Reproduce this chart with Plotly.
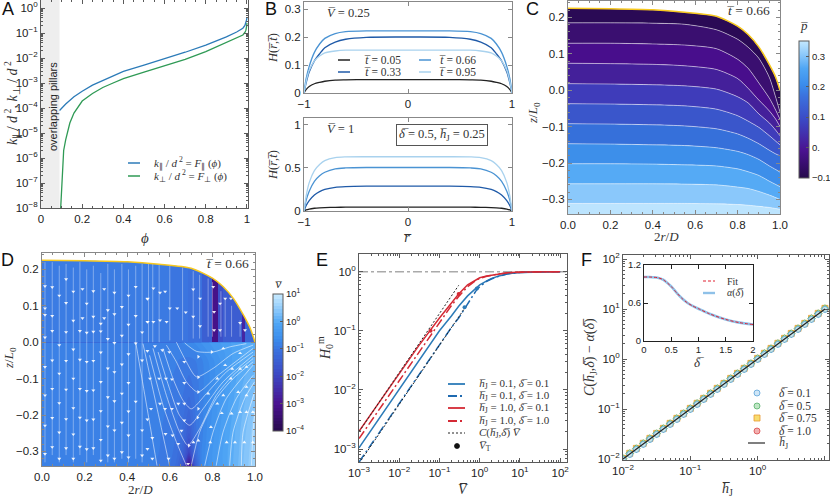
import plotly.graph_objects as go

W, H = 830, 497
SERIF = "Liberation Serif"
SANS = "Liberation Sans"
FRAME = "#5a5a5a"

# ---- panel A: permeabilities
phi_par = [0.09, 0.12, 0.16, 0.2, 0.25, 0.3, 0.35, 0.4, 0.5, 0.6, 0.7, 0.8, 0.9, 0.95, 0.98, 0.99, 0.995, 0.998, 1.0]
k_par = [7.9e-5, 1.45e-4, 2.8e-4, 4.7e-4, 8.2e-4, 1.26e-3, 1.95e-3, 2.9e-3, 5.2e-3, 9.3e-3, 1.7e-2, 3.3e-2, 7e-2, 0.11, 0.155, 0.2, 0.26, 0.33, 0.42]
phi_perp = [0.0956, 0.097, 0.1, 0.105, 0.11, 0.12, 0.14, 0.16, 0.2, 0.25, 0.3, 0.35, 0.4, 0.5, 0.6, 0.7, 0.8, 0.9, 0.95, 0.98, 0.99, 0.995, 0.998, 1.0]
k_perp = [1e-8, 1.6e-8, 7.4e-8, 4.7e-7, 2e-6, 5.4e-6, 2.5e-5, 6.3e-5, 1.9e-4, 3.8e-4, 6.6e-4, 1e-3, 1.5e-3, 2.75e-3, 4.9e-3, 8.9e-3, 1.8e-2, 4.2e-2, 6.3e-2, 8.3e-2, 0.105, 0.13, 0.18, 0.25]
decades_a = [1e-8, 1e-7, 1e-6, 1e-5, 1e-4, 1e-3, 1e-2, 1e-1, 1]
decade_labels_a = ["10<sup>−8</sup>", "10<sup>−7</sup>", "10<sup>−6</sup>", "10<sup>−5</sup>", "10<sup>−4</sup>", "10<sup>−3</sup>", "10<sup>−2</sup>", "10<sup>−1</sup>", "10<sup>0</sup>"]

# ---- panel B: film profiles
r_b = [-1, -0.98, -0.95, -0.9, -0.85, -0.8, -0.7, -0.6, -0.4, 0, 0.4, 0.6, 0.7, 0.8, 0.85, 0.9, 0.95, 0.98, 1]
top_t005 = [0, 0.012, 0.023, 0.033, 0.038, 0.042, 0.046, 0.047, 0.048, 0.048, 0.048, 0.047, 0.046, 0.042, 0.038, 0.033, 0.023, 0.012, 0]
top_t033 = [0, 0.035, 0.075, 0.115, 0.14, 0.162, 0.182, 0.192, 0.199, 0.2, 0.199, 0.192, 0.182, 0.162, 0.14, 0.115, 0.075, 0.035, 0]
top_t066 = [0, 0.05, 0.095, 0.145, 0.175, 0.195, 0.212, 0.219, 0.222, 0.222, 0.222, 0.219, 0.212, 0.195, 0.175, 0.145, 0.095, 0.05, 0]
top_t095 = [0, 0.04, 0.08, 0.115, 0.132, 0.143, 0.15, 0.153, 0.153, 0.153, 0.153, 0.153, 0.15, 0.143, 0.132, 0.115, 0.08, 0.04, 0]
bot_t005 = [0, 0.012, 0.023, 0.032, 0.037, 0.04, 0.043, 0.044, 0.045, 0.045, 0.045, 0.044, 0.043, 0.04, 0.037, 0.032, 0.023, 0.012, 0]
bot_t033 = [0, 0.06, 0.12, 0.185, 0.225, 0.25, 0.275, 0.283, 0.288, 0.29, 0.288, 0.283, 0.275, 0.25, 0.225, 0.185, 0.12, 0.06, 0]
bot_t066 = [0, 0.12, 0.23, 0.345, 0.41, 0.45, 0.49, 0.5, 0.505, 0.505, 0.505, 0.5, 0.49, 0.45, 0.41, 0.345, 0.23, 0.12, 0]
bot_t095 = [0, 0.17, 0.33, 0.47, 0.54, 0.585, 0.62, 0.628, 0.63, 0.63, 0.63, 0.628, 0.62, 0.585, 0.54, 0.47, 0.33, 0.17, 0]

# ---- panels C and D: interface and pressure contours
r_c = [0, 0.2, 0.4, 0.55, 0.7, 0.8, 0.85, 0.9, 0.95, 0.98, 1]
z_interface = [0.225, 0.224, 0.221, 0.214, 0.203, 0.176, 0.153, 0.119, 0.07, 0.035, 0]
p_line_1 = [0.185, 0.185, 0.184, 0.181, 0.166, 0.14, 0.118, 0.088, 0.035, -0.02, -0.06]
p_line_2 = [0.129, 0.129, 0.127, 0.124, 0.114, 0.085, 0.06, 0.02, -0.022, -0.055, -0.08]
p_line_3 = [0.074, 0.073, 0.071, 0.067, 0.057, 0.032, 0.005, -0.027, -0.057, -0.08, -0.1]
p_line_4 = [0.018, 0.017, 0.015, 0.012, 0.003, -0.018, -0.035, -0.065, -0.09, -0.11, -0.125]
p_line_5 = [-0.037, -0.038, -0.04, -0.043, -0.052, -0.07, -0.085, -0.102, -0.125, -0.14, -0.15]
p_line_6 = [-0.092, -0.093, -0.095, -0.098, -0.106, -0.12, -0.132, -0.147, -0.165, -0.175, -0.18]
p_line_7 = [-0.147, -0.148, -0.15, -0.152, -0.158, -0.168, -0.177, -0.19, -0.208, -0.218, -0.225]
p_line_8 = [-0.202, -0.202, -0.203, -0.205, -0.208, -0.216, -0.224, -0.234, -0.25, -0.259, -0.265]
p_line_9 = [-0.257, -0.257, -0.257, -0.258, -0.26, -0.266, -0.27, -0.278, -0.288, -0.295, -0.3]
p_line_10 = [-0.311, -0.311, -0.311, -0.311, -0.312, -0.314, -0.316, -0.319, -0.322, -0.325, -0.327]
z_floor = [-0.34, -0.34, -0.34, -0.34, -0.34, -0.34, -0.34, -0.34, -0.34, -0.34, -0.34]
z_ceiling = [0.25, 0.25, 0.25, 0.25, 0.25, 0.25, 0.25, 0.25, 0.25, 0.25, 0.25]
band_colors = ["#bce4fe", "#8ac8fb", "#55aaf5", "#3d8fea", "#3670da", "#3a56cb", "#3f3cba", "#44209a", "#480e8c", "#3a0f70", "#2a0a55"]

# ---- panel D: log10 of speed above and below z = 0
upper_r_edges = [0, 0.53, 0.6, 0.685, 0.75, 0.8, 0.826, 0.85, 0.94, 0.953, 1]
upper_logv = [[-0.85, -0.88, -0.95, -1.05, -1.4, -3.1, -1.7, -1.45, -2.6, -1.25]]
upper_z_edges = [0, 0.25]
lower_r = [0, 0.4, 0.5, 0.55, 0.6, 0.63, 0.66, 0.69, 0.72, 0.75, 0.8, 0.85, 0.88, 0.91, 0.94, 0.97, 1]
lower_z = [-0.34, -0.3, -0.25, -0.2, -0.15, -0.1, -0.05, -0.001]
lower_logv = [
    [-0.85, -0.85, -0.85, -0.9, -1.0, -1.15, -1.6, -3.0, -1.5, -0.7, -0.4, -0.15, 0.0, 0.15, 0.3, 0.45, 0.65],
    [-0.85, -0.85, -0.85, -0.88, -0.95, -1.05, -1.3, -1.9, -1.15, -0.75, -0.4, -0.15, 0.0, 0.12, 0.28, 0.42, 0.6],
    [-0.85, -0.85, -0.85, -0.87, -0.92, -1.0, -1.15, -1.5, -1.05, -0.8, -0.45, -0.2, -0.05, 0.1, 0.25, 0.38, 0.55],
    [-0.85, -0.85, -0.85, -0.86, -0.9, -0.96, -1.08, -1.3, -1.0, -0.8, -0.5, -0.25, -0.1, 0.05, 0.2, 0.32, 0.48],
    [-0.85, -0.85, -0.85, -0.85, -0.88, -0.93, -1.0, -1.12, -0.98, -0.8, -0.55, -0.3, -0.15, 0.0, 0.12, 0.25, 0.38],
    [-0.85, -0.85, -0.85, -0.85, -0.87, -0.9, -0.95, -1.02, -0.95, -0.8, -0.58, -0.35, -0.2, -0.05, 0.05, 0.15, 0.25],
    [-0.85, -0.85, -0.85, -0.85, -0.85, -0.87, -0.9, -0.92, -0.88, -0.78, -0.55, -0.35, -0.2, -0.1, 0.0, 0.05, 0.12],
    [-0.85, -0.85, -0.85, -0.85, -0.82, -0.8, -0.75, -0.7, -0.62, -0.5, -0.35, -0.25, -0.18, -0.1, -0.05, 0.0, 0.05],
]
# straight streamlines: r, top z, bottom z
stream_r = [0.014, 0.048, 0.081, 0.113, 0.147, 0.178, 0.21, 0.241, 0.276, 0.309, 0.34, 0.375, 0.406, 0.44, 0.47]
stream_top = [0.22, 0.22, 0.21, 0.215, 0.205, 0.22, 0.2, 0.21, 0.19, 0.215, 0.2, 0.215, 0.2, 0.21, 0.215]
stream_bottom = [-0.33, -0.31, -0.33, -0.31, -0.33, -0.31, -0.33, -0.31, -0.33, -0.33, -0.33, -0.32, -0.33, -0.32, -0.33]
upper_stream_r = [0.5, 0.52, 0.55, 0.6, 0.66, 0.71, 0.74, 0.78, 0.8, 0.84, 0.86, 0.89, 0.93]
upper_stream_top = [0.22, 0.22, 0.215, 0.215, 0.205, 0.195, 0.185, 0.175, 0.165, 0.14, 0.12, 0.1, 0.06]
upper_stream_bottom = [0.0, 0.0, 0.0, 0.005, 0.005, 0.01, 0.01, 0.015, 0.015, 0.015, 0.015, 0.015, 0.015]
# curved streamlines
curve_r = [
    [0.67, 0.725, 0.803, 0.881, 0.959],
    [0.631, 0.678, 0.725, 0.803, 0.897, 0.991],
    [0.584, 0.631, 0.678, 0.732, 0.818, 0.897, 0.991],
    [0.568, 0.615, 0.662, 0.701, 0.772, 0.865, 0.991],
    [0.545, 0.599, 0.646, 0.693, 0.756, 0.85, 0.991],
    [0.521, 0.584, 0.646, 0.685, 0.74, 0.818, 0.897, 0.991],
    [0.505, 0.568, 0.631, 0.678],
    [0.701, 0.74, 0.818, 0.897, 0.991],
    [0.764, 0.803, 0.865, 0.991],
    [0.818, 0.85, 0.912, 0.991],
    [0.881, 0.897, 0.951, 0.998],
    [0.936, 0.944, 0.998],
    [0.983, 0.991, 1.0],
    [0.474, 0.537, 0.599],
    [0.44, 0.49, 0.54],
]
curve_z = [
    [-0.002, -0.025, -0.027, -0.013, -0.004],
    [0.0, -0.054, -0.095, -0.072, -0.031, -0.008],
    [-0.008, -0.054, -0.109, -0.137, -0.095, -0.059, -0.017],
    [-0.017, -0.1, -0.16, -0.183, -0.141, -0.082, -0.027],
    [-0.027, -0.128, -0.201, -0.228, -0.183, -0.109, -0.036],
    [-0.017, -0.146, -0.247, -0.283, -0.238, -0.146, -0.091, -0.045],
    [-0.036, -0.173, -0.274, -0.339],
    [-0.339, -0.247, -0.155, -0.1, -0.054],
    [-0.339, -0.247, -0.155, -0.063],
    [-0.339, -0.247, -0.155, -0.091],
    [-0.339, -0.247, -0.155, -0.109],
    [-0.339, -0.247, -0.137],
    [-0.339, -0.247, -0.19],
    [-0.004, -0.173, -0.339],
    [0.0, -0.17, -0.339],
]
# flow arrows
down_r = [0.014] * 8 + [0.048] * 7 + [0.081] * 6 + [0.113] * 7 + [0.147] * 7 + [0.178] * 5 + [0.19] * 2 + [0.21] * 6 + [0.241] * 7 + [0.276] * 7 + [0.292] * 2 + [0.309] * 6 + [0.34] * 7 + [0.375] * 6 + [0.406] * 7 + [0.44] * 4 + [0.47] * 4 + [0.495] * 5
down_z = [0.154, 0.093, 0.075, 0.013, -0.068, -0.146, -0.229, -0.307,
          0.151, 0.072, 0.031, -0.05, -0.128, -0.208, -0.288,
          0.128, -0.008, -0.086, -0.167, -0.248, -0.32,
          0.173, 0.108, 0.028, -0.051, -0.13, -0.211, -0.291,
          0.139, 0.059, -0.02, -0.1, -0.181, -0.253, -0.32,
          0.031, -0.048, -0.128, -0.207, -0.287,
          0.146, 0.066,
          0.106, 0.026, -0.054, -0.134, -0.215, -0.294,
          0.14, 0.07, 0.029, -0.051, -0.132, -0.212, -0.291,
          0.051, 0.03, -0.028, -0.109, -0.189, -0.268, -0.325,
          0.146, 0.066,
          0.088, 0.009, -0.072, -0.151, -0.231, -0.311,
          0.136, 0.077, -0.002, -0.082, -0.162, -0.242, -0.32,
          0.097, 0.018, -0.061, -0.141, -0.221, -0.302,
          0.128, 0.048, -0.033, -0.112, -0.19, -0.256, -0.316,
          0.152, 0.072, -0.003, -0.163,
          0.027, -0.05, -0.242, -0.311,
          0.119, 0.056, -0.024, -0.212, -0.293]
upper_down_r = [0.496, 0.523, 0.554, 0.578, 0.496, 0.523, 0.554, 0.585, 0.6, 0.635, 0.675, 0.71, 0.71, 0.742, 0.742, 0.804, 0.808, 0.808, 0.836, 0.86, 0.887, 0.836, 0.93, 0.93, 0.953]
upper_down_z = [0.12, 0.148, 0.136, 0.139, 0.056, 0.056, 0.06, 0.056, 0.093, 0.093, 0.082, 0.145, 0.07, 0.12, 0.044, 0.152, 0.083, 0.033, 0.106, 0.12, 0.12, 0.033, 0.097, 0.053, 0.033]
lower_down_r = [0.53, 0.565, 0.598, 0.507, 0.55, 0.582, 0.61, 0.554, 0.512, 0.578, 0.61, 0.64, 0.668, 0.518, 0.58, 0.613, 0.64, 0.655, 0.518, 0.594, 0.686, 0.668, 0.668, 0.668]
lower_down_z = [-0.011, -0.022, -0.027, -0.1, -0.1, -0.1, -0.102, -0.169, -0.183, -0.183, -0.183, -0.169, -0.215, -0.263, -0.252, -0.256, -0.279, -0.243, -0.32, -0.32, -0.334, -0.054, -0.112, -0.169]
right_r = [0.734, 0.734, 0.734, 0.731, 0.69, 0.734, 0.797]
right_z = [-0.096, -0.137, -0.183, -0.207, -0.284, -0.04, -0.027]
up_r = [0.711, 0.851, 0.93, 0.86, 0.893, 0.93, 0.96, 0.823, 0.887, 0.96, 0.78, 0.851, 0.921, 0.96, 0.823, 0.89, 0.844, 0.93, 0.96, 0.99, 0.867, 0.906, 0.95, 0.99, 0.79, 0.793, 0.734]
up_z = [-0.275, -0.017, -0.03, -0.063, -0.073, -0.073, -0.068, -0.1, -0.1, -0.123, -0.141, -0.146, -0.137, -0.146, -0.169, -0.196, -0.195, -0.192, -0.192, -0.192, -0.275, -0.275, -0.275, -0.275, -0.275, -0.233, -0.27]

# ---- panel E: maximum film height
v_e = [1e-3, 1e-2, 0.03, 0.1, 0.2, 0.3, 0.5, 0.8, 1, 1.5, 2, 3, 5, 10, 30, 100]
h_01_01 = [1.05e-3, 1.05e-2, 0.031, 0.1, 0.18, 0.26, 0.39, 0.52, 0.6, 0.7, 0.77, 0.85, 0.92, 0.97, 0.995, 1]
h_01_10 = [6e-4, 6e-3, 0.018, 0.06, 0.115, 0.165, 0.29, 0.47, 0.56, 0.69, 0.76, 0.84, 0.92, 0.97, 0.995, 1]
h_10_01 = [2e-3, 1.9e-2, 0.055, 0.165, 0.3, 0.42, 0.6, 0.73, 0.79, 0.85, 0.88, 0.93, 0.96, 0.985, 0.998, 1]
h_10_10 = [1.5e-3, 1.45e-2, 0.043, 0.14, 0.27, 0.38, 0.56, 0.71, 0.77, 0.84, 0.88, 0.92, 0.96, 0.985, 0.998, 1]
v_linear_upper = [1e-3, 0.3]
h_linear_upper = [1.96e-3, 0.588]
v_linear_lower = [1e-3, 0.48]
h_linear_lower = [5.7e-4, 0.274]
v_unit = [1e-3, 150]
h_unit = [1, 1]
v_t_red = [0.3, 0.06]
h_t_red = [0.42, 0.1]
v_t_blue = [0.85, 0.42]
h_t_blue = [0.52, 0.25]
decades_e_x = [1e-3, 1e-2, 1e-1, 1, 10, 100]
decade_labels_e_x = ["10<sup>−3</sup>", "10<sup>−2</sup>", "10<sup>−1</sup>", "10<sup>0</sup>", "10<sup>1</sup>", "10<sup>2</sup>"]
decades_e_y = [1e-3, 1e-2, 1e-1, 1]
decade_labels_e_y = ["10<sup>−3</sup>", "10<sup>−2</sup>", "10<sup>−1</sup>", "10<sup>0</sup>"]

# ---- panel F: collapse
hj = [0.01, 0.0126, 0.0158, 0.02, 0.0251, 0.0316, 0.0398, 0.0501, 0.0631, 0.0794, 0.1, 0.126, 0.158, 0.2, 0.251, 0.316, 0.398, 0.501, 0.631, 0.794, 1, 1.26, 1.58, 2, 2.51, 3.16, 3.98, 5.01, 6.31, 7.94, 10]
f_d010 = [0.0098, 0.0123, 0.0155, 0.0196, 0.0246, 0.031, 0.039, 0.0491, 0.0618, 0.0778, 0.098, 0.123, 0.155, 0.196, 0.246, 0.31, 0.39, 0.491, 0.618, 0.778, 0.98, 1.23, 1.55, 1.96, 2.46, 3.1, 3.9, 4.91, 6.18, 7.78, 9.8]
f_d050 = [0.0102, 0.0129, 0.0161, 0.0204, 0.0256, 0.0322, 0.0406, 0.0511, 0.0644, 0.081, 0.102, 0.129, 0.161, 0.204, 0.256, 0.322, 0.406, 0.511, 0.644, 0.81, 1.02, 1.29, 1.61, 2.04, 2.56, 3.22, 4.06, 5.11, 6.44, 8.1, 10.2]
f_d075 = [0.0103, 0.013, 0.0163, 0.0206, 0.0259, 0.0325, 0.041, 0.0516, 0.065, 0.0818, 0.103, 0.13, 0.163, 0.206, 0.259, 0.325, 0.41, 0.516, 0.65, 0.818, 1.03, 1.3, 1.63, 2.06, 2.59, 3.25, 4.1, 5.16, 6.5, 8.18, 10.3]
f_d100 = [0.0102, 0.0128, 0.0161, 0.0204, 0.0256, 0.0322, 0.0406, 0.0511, 0.0644, 0.081, 0.102, 0.128, 0.161, 0.204, 0.256, 0.322, 0.406, 0.511, 0.644, 0.81, 1.02, 1.28, 1.61, 2.04, 2.56, 3.22, 4.06, 5.11, 6.44, 8.1, 10.2]
hj_line = [0.01, 10]
decades_f_x = [1e-2, 1e-1, 1, 10]
decade_labels_f_x = ["10<sup>−2</sup>", "10<sup>−1</sup>", "10<sup>0</sup>", "10<sup>1</sup>"]
decades_f_y = [1e-2, 1e-1, 1, 10, 100]
decade_labels_f_y = ["10<sup>−2</sup>", "10<sup>−1</sup>", "10<sup>0</sup>", "10<sup>1</sup>", "10<sup>2</sup>"]
delta_inset = [0, 0.1, 0.25, 0.35, 0.5, 0.6, 0.7, 0.8, 0.9, 1, 1.2, 1.5, 1.75, 2]
alpha_inset = [1.01, 1.01, 1.0, 0.97, 0.86, 0.76, 0.67, 0.6, 0.55, 0.51, 0.43, 0.34, 0.29, 0.26]

# ---- colour bars
cmap = [[0, "#260a4c"], [0.2, "#4a1290"], [0.42, "#3c48c4"], [0.6, "#3b72de"], [0.68, "#3b8cec"], [0.8, "#4fa6f5"], [0.89, "#86c5fa"], [1, "#c4e8fe"]]
p_ticks = [-0.1, 0, 0.1, 0.2, 0.3]
p_tick_labels = ["−0.1", "0.", "0.1", "0.2", "0.3"]
v_ticks = [-4, -3, -2, -1, 0, 1]
v_tick_labels = ["10<sup>−4</sup>", "10<sup>−3</sup>", "10<sup>−2</sup>", "10<sup>−1</sup>", "10<sup>0</sup>", "10<sup>1</sup>"]


def xdom(left, right):
    return [left / W, right / W]


def ydom(top, bottom):
    return [1 - bottom / H, 1 - top / H]


def axis(domain, anchor, rng, tick_size=11.5, minor=None, frame=FRAME, **kw):
    d = dict(domain=domain, anchor=anchor, range=rng, showgrid=False, zeroline=False,
             showline=True, linecolor=frame, linewidth=1, mirror="ticks",
             ticks="inside", ticklen=4, tickcolor=frame, tickwidth=1,
             tickfont=dict(family=SANS, size=tick_size, color="#222"))
    if minor is not None:
        d["minor"] = dict(ticks="inside", ticklen=2, tickcolor=frame, tickwidth=1, showgrid=False, **minor)
    d.update(kw)
    return d


def log_minor(first, last):
    return dict(tickmode="array", tickvals=[m * 10.0 ** e for e in range(first, last) for m in range(2, 10)])


def line(x, y, color, ax, width=1.3, dash=None, shape=None):
    return go.Scatter(x=x, y=y, mode="lines", xaxis="x" + ax, yaxis="y" + ax, showlegend=False,
                      line=dict(color=color, width=width, dash=dash, shape=shape, smoothing=0.7), hoverinfo="skip")


def color_bar(left, bottom, ticks, labels):
    return dict(x=left / W, xanchor="left", y=1 - bottom / H, yanchor="bottom", lenmode="pixels", len=137,
                thicknessmode="pixels", thickness=10, xpad=0, ypad=0, outlinecolor=FRAME, outlinewidth=1,
                tickvals=ticks, ticktext=labels, ticks="inside", ticklen=3, tickcolor=FRAME,
                tickfont=dict(family=SANS, size=9.5, color="#222"))


fig = go.Figure()

# A
fig.add_trace(line(phi_par, k_par, "#2c7bb8", ""))
fig.add_trace(line(phi_perp, k_perp, "#2f9a55", ""))

# B
for ax, rows in (("2", (top_t005, top_t033, top_t066, top_t095)), ("3", (bot_t005, bot_t033, bot_t066, bot_t095))):
    for vals, col in zip(rows, ("#222222", "#1f5aa8", "#4a93d3", "#a9d2ee")):
        fig.add_trace(line(r_b, vals, col, ax, shape="spline"))

# C: bands stacked upward from the floor
fig.add_trace(line(r_c, z_floor, "rgba(0,0,0,0)", "4", width=0))
c_lines = [p_line_10, p_line_9, p_line_8, p_line_7, p_line_6, p_line_5, p_line_4, p_line_3, p_line_2, p_line_1, z_interface]
for vals, col in zip(c_lines, band_colors):
    tr = line(r_c, vals, "rgba(255,255,255,0.5)", "4", width=1, shape="spline")
    tr.fill = "tonexty"
    tr.fillcolor = col
    fig.add_trace(tr)
fig.add_trace(line(r_c, z_interface, "#f7c81e", "4", width=1.5, shape="spline"))
fig.add_trace(go.Scatter(x=[0.5], y=[0], mode="markers", xaxis="x4", yaxis="y4", showlegend=False, hoverinfo="skip",
                         marker=dict(color=[0], colorscale=cmap, cmin=-0.1, cmax=0.35, opacity=0, showscale=True,
                                     colorbar=color_bar(799, 178, p_ticks, p_tick_labels))))

# D
fig.add_trace(go.Contour(x=lower_r, y=lower_z, z=lower_logv, xaxis="x5", yaxis="y5", colorscale=cmap, zmin=-4, zmax=1,
                         autocontour=False, contours=dict(start=-4, end=1, size=0.12, coloring="fill", showlines=False),
                         line=dict(width=0), hoverinfo="skip", showscale=True,
                         colorbar=color_bar(273, 431, v_ticks, v_tick_labels)))
fig.add_trace(go.Heatmap(x=upper_r_edges, y=upper_z_edges, z=upper_logv, xaxis="x5", yaxis="y5",
                         colorscale=cmap, zmin=-4, zmax=1, showscale=False, hoverinfo="skip"))
fig.add_trace(line(r_c, z_ceiling, "rgba(0,0,0,0)", "5", width=0))
mask = line(r_c, z_interface, "rgba(0,0,0,0)", "5", width=0, shape="spline")
mask.fill = "tonexty"
mask.fillcolor = "white"
fig.add_trace(mask)

s_x, s_y = [], []
for r, t, b in zip(stream_r + upper_stream_r, stream_top + upper_stream_top, stream_bottom + upper_stream_bottom):
    s_x += [r, r, None]
    s_y += [t, b, None]
fig.add_trace(line(s_x, s_y, "rgba(255,255,255,0.4)", "5", width=0.9))
for rs, zs in zip(curve_r, curve_z):
    fig.add_trace(line(rs, zs, "rgba(255,255,255,0.6)", "5", width=0.9, shape="spline"))
for xs, ys, sym in ((down_r + upper_down_r + lower_down_r, down_z + upper_down_z + lower_down_z, "triangle-down"),
                    (right_r, right_z, "triangle-right"), (up_r, up_z, "triangle-up")):
    fig.add_trace(go.Scatter(x=xs, y=ys, mode="markers", xaxis="x5", yaxis="y5", showlegend=False, hoverinfo="skip",
                             marker=dict(symbol=sym, size=3.5, color="rgba(255,255,255,0.9)", line=dict(width=0))))
fig.add_trace(line(r_c, z_interface, "#f7c81e", "5", width=1.5, shape="spline"))

# E
fig.add_trace(line(v_unit, h_unit, "#aaaaaa", "6", width=1.5, dash="dashdot"))
fig.add_trace(line(v_e, h_01_01, "#2c7bb8", "6", width=1.5))
fig.add_trace(line(v_e, h_01_10, "#1f6ab0", "6", width=1.5, dash="9px,3px,2px,3px"))
fig.add_trace(line(v_e, h_10_01, "#d42a35", "6", width=1.5))
fig.add_trace(line(v_e, h_10_10, "#d42a35", "6", width=1.5, dash="9px,3px,2px,3px"))
fig.add_trace(line(v_linear_upper, h_linear_upper, "#222", "6", width=1, dash="2px,2px"))
fig.add_trace(line(v_linear_lower, h_linear_lower, "#222", "6", width=1, dash="2px,2px"))
for vx, hy, col in ((v_t_red, h_t_red, "#d42a35"), (v_t_blue, h_t_blue, "#2c7bb8")):
    fig.add_trace(go.Scatter(x=vx, y=hy, mode="markers", xaxis="x6", yaxis="y6", showlegend=False, hoverinfo="skip",
                             marker=dict(size=4, color=col)))

# F
series_f = (
    (f_d100, "circle-x", "#f2b0b0", "#d8484a"),
    (f_d075, "square", "#f7dc6f", "#e89a30"),
    (f_d050, "diamond", "#bfe6c4", "#55b06a"),
    (f_d010, "circle", "rgba(207,230,247,0.75)", "#5aa2d8"),
)
for vals, sym, fill, edge in series_f:
    fig.add_trace(go.Scatter(x=hj, y=vals, mode="markers", xaxis="x7", yaxis="y7", showlegend=False, hoverinfo="skip",
                             marker=dict(symbol=sym, size=6, color=fill, line=dict(color=edge, width=0.8))))
fig.add_trace(line(hj_line, hj_line, "#222", "7", width=1.2))
fig.add_trace(line(delta_inset, alpha_inset, "#8fc1e8", "8", width=2.6, shape="spline"))
fig.add_trace(line(delta_inset, alpha_inset, "#e02030", "8", width=1, dash="3px,2px", shape="spline"))

layout_axes = dict(
    xaxis=axis(xdom(41, 248), "y", [0, 1.005], minor=dict(dtick=0.05),
               tickvals=[0, 0.2, 0.4, 0.6, 0.8, 1], ticktext=["0", "0.2", "0.4", "0.6", "0.8", "1"]),
    yaxis=axis(ydom(0, 208), "x", [-8, 0.32], type="log", minor=log_minor(-8, 1),
               tickvals=decades_a, ticktext=decade_labels_a),
    xaxis2=axis(xdom(304, 512), "y2", [-1, 1], frame="#888888", tickvals=[-1, 0, 1], ticktext=["−1", "0", "1"]),
    yaxis2=axis(ydom(2, 93), "x2", [0, 0.325], frame="#888888", tickvals=[0, 0.1, 0.2, 0.3], ticktext=["0", "0.1", "0.2", "0.3"]),
    xaxis3=axis(xdom(304, 512), "y3", [-1, 1], frame="#888888", tickvals=[-1, 0, 1], ticktext=["−1", "0", "1"]),
    yaxis3=axis(ydom(118, 211), "x3", [0, 1.08], frame="#888888", tickvals=[0, 0.5, 1], ticktext=["0", "0.5", "1"]),
    xaxis4=axis(xdom(568, 780), "y4", [0, 1], frame="#888888", dtick=0.2, tickformat=".1f", minor=dict(dtick=0.05)),
    yaxis4=axis(ydom(1, 214), "x4", [-0.34, 0.245], frame="#888888", minor=dict(dtick=0.02),
                tickvals=[-0.3, -0.2, -0.1, 0, 0.1, 0.2], ticktext=["−0.3", "−0.2", "−0.1", "0.0", "0.1", "0.2"]),
    xaxis5=axis(xdom(42, 255), "y5", [0, 1], frame="#888888", dtick=0.2, tickformat=".1f", minor=dict(dtick=0.05)),
    yaxis5=axis(ydom(253, 466), "x5", [-0.34, 0.245], frame="#888888", minor=dict(dtick=0.02),
                tickvals=[-0.3, -0.2, -0.1, 0, 0.1, 0.2], ticktext=["−0.3", "−0.2", "−0.1", "0.0", "0.1", "0.2"]),
    xaxis6=axis(xdom(359, 567), "y6", [-3, 2.17], type="log", minor=log_minor(-3, 3),
                tickvals=decades_e_x, ticktext=decade_labels_e_x),
    yaxis6=axis(ydom(254, 462), "x6", [-3.22, 0.3], type="log", minor=log_minor(-4, 1),
                tickvals=decades_e_y, ticktext=decade_labels_e_y),
    xaxis7=axis(xdom(623, 829), "y7", [-2, 1.06], type="log", minor=log_minor(-2, 2),
                tickvals=decades_f_x, ticktext=decade_labels_f_x),
    yaxis7=axis(ydom(255, 460), "x7", [-2.02, 2.08], type="log", minor=log_minor(-3, 3),
                tickvals=decades_f_y, ticktext=decade_labels_f_y),
    xaxis8=axis(xdom(644, 753), "y8", [0, 2], tick_size=9.5, frame="#222",
                tickvals=[0, 0.5, 1, 1.5, 2], ticktext=["0", "0.5", "1", "1.5", "2"]),
    yaxis8=axis(ydom(265, 341), "x8", [0, 1.2], tick_size=9.5, frame="#222",
                tickvals=[0, 0.6, 1.2], ticktext=["0", "0.6", "1.2"]),
)


def note(x, y, text, size=12, family=SERIF, angle=0, anchor="center", color="#333", **kw):
    return dict(x=x / W, y=1 - y / H, xref="paper", yref="paper", text=text, showarrow=False, textangle=angle,
                xanchor=anchor, yanchor="middle", font=dict(family=family, size=size, color=color), **kw)


def key_line(x0, x1, y, color, width=1.5, dash=None):
    return dict(type="line", xref="paper", yref="paper", x0=x0 / W, x1=x1 / W, y0=1 - y / H, y1=1 - y / H,
                line=dict(color=color, width=width, dash=dash))


def key_box(kind, cx, cy, fill, edge, r=3):
    return dict(type=kind, xref="paper", yref="paper", x0=(cx - r) / W, x1=(cx + r) / W, y0=1 - (cy + r) / H,
                y1=1 - (cy - r) / H, fillcolor=fill, line=dict(color=edge, width=0.8))


TBAR = "<i>t̅</i>"
RBAR = "<i>r̅</i>"
VBAR = "<i>V̅</i>"
DBAR = "<i>δ̅</i>"
HJ = "<i>h̅</i><sub>J</sub>"

annotations = [
    note(8, 9, "A", 18, SANS, color="#111"), note(271, 9, "B", 18, SANS, color="#111"), note(532, 9, "C", 18, SANS, color="#111"),
    note(7, 260, "D", 18, SANS, color="#111"), note(322, 260, "E", 18, SANS, color="#111"), note(586, 260, "F", 18, SANS, color="#111"),
    # A
    note(145, 238, "<i>ϕ</i>", 15),
    note(12, 103, "<i>k</i><sub>∥</sub> / <i>d</i><sup> 2</sup>, <i>k</i><sub>⊥</sub> / <i>d</i><sup> 2</sup>", 14, angle=-90),
    note(53, 107, "overlapping pillars", 11, SANS, angle=-90, color="#222"),
    note(152, 163, "<i>k</i><sub>∥</sub> / <i>d</i><sup> 2</sup> = <i>F</i><sub>∥</sub> (<i>ϕ</i>)", 11, anchor="left"),
    note(152, 176, "<i>k</i><sub>⊥</sub> / <i>d</i><sup> 2</sup> = <i>F</i><sub>⊥</sub> (<i>ϕ</i>)", 11, anchor="left"),
    # B
    note(348, 13, VBAR + " = 0.25", 12.5), note(340, 129, VBAR + " = 1", 12.5),
    note(362, 60, TBAR + " = 0.05", 11.5, anchor="left"), note(362, 72, TBAR + " = 0.33", 11.5, anchor="left"),
    note(437, 60, TBAR + " = 0.66", 11.5, anchor="left"), note(437, 72, TBAR + " = 0.95", 11.5, anchor="left"),
    note(442, 135, DBAR + " = 0.5, " + HJ + " = 0.25", 12.5, bordercolor="#555", borderwidth=1, borderpad=2),
    note(273, 48, "<i>H</i>(" + RBAR + "," + TBAR + ")", 12.5, angle=-90),
    note(273, 165, "<i>H</i>(" + RBAR + "," + TBAR + ")", 12.5, angle=-90),
    note(408, 237, RBAR, 14),
    # C
    note(748, 10, TBAR + " = 0.66", 13.5), note(533, 113, "<i>z</i>/<i>L</i><sub>0</sub>", 13, angle=-90),
    note(666, 236, "2<i>r</i>/<i>D</i>", 13), note(804, 25, "<i>p̅</i>", 13),
    # D
    note(227, 263, TBAR + " = 0.66", 13.5), note(9, 358, "<i>z</i>/<i>L</i><sub>0</sub>", 13, angle=-90),
    note(140, 489, "2<i>r</i>/<i>D</i>", 13), note(278, 283, "<i>v̅</i>", 13),
    # E
    note(463, 489, VBAR, 14), note(325, 348, "<i>H</i><sub>0</sub><sup>m</sup>", 14, angle=-90),
    note(477, 384, HJ + " = 0.1, " + DBAR + " = 0.1", 11, anchor="left"),
    note(477, 396, HJ + " = 0.1, " + DBAR + " = 1.0", 11, anchor="left"),
    note(477, 408, HJ + " = 1.0, " + DBAR + " = 0.1", 11, anchor="left"),
    note(477, 421, HJ + " = 1.0, " + DBAR + " = 1.0", 11, anchor="left"),
    note(477, 433, "<i>C</i>(" + HJ + "," + DBAR + ") " + VBAR, 11, anchor="left"),
    note(477, 446, VBAR + "<sub>T</sub>", 11, anchor="left"),
    # F
    note(727, 489, HJ, 14), note(590, 357, "<i>C</i>(" + HJ + "," + DBAR + ") − <i>α</i>(" + DBAR + ")", 14, angle=-90),
    note(777, 393, DBAR + " = 0.1", 11.5, anchor="left"), note(777, 406, DBAR + " = 0.5", 11.5, anchor="left"),
    note(777, 418, DBAR + " = 0.75", 11.5, anchor="left"), note(777, 431, DBAR + " = 1.0", 11.5, anchor="left"),
    note(777, 443, HJ, 11.5, anchor="left"),
    note(699, 362, DBAR, 13),
    note(725, 281, "Fit", 10, anchor="left"), note(725, 293, "<i>α</i>(" + DBAR + ")", 10, anchor="left"),
]

shapes = [
    dict(type="rect", xref="x", yref="paper", x0=0, x1=0.09, y0=1 - 208 / H, y1=1, fillcolor="#eeeeee", line=dict(width=0), layer="below"),
    key_line(128, 140, 163, "#2c7bb8"), key_line(128, 140, 176, "#2f9a55"),
    key_line(338, 350, 60, "#222222"), key_line(338, 350, 72, "#1f5aa8"),
    key_line(419, 431, 60, "#4a93d3"), key_line(419, 431, 72, "#a9d2ee"),
    key_line(448, 465, 384, "#2c7bb8", 1.8), key_line(448, 465, 396, "#1f6ab0", 1.8, "9px,3px,2px,3px"),
    key_line(448, 465, 408, "#d42a35", 1.8), key_line(448, 465, 421, "#d42a35", 1.8, "9px,3px,2px,3px"),
    key_line(448, 465, 433, "#222", 1, "2px,2px"), key_box("circle", 457, 446, "#111", "#111", 2.5),
    key_box("circle", 757, 393, "#cfe6f7", "#5aa2d8"), key_box("circle", 757, 406, "#bfe6c4", "#55b06a"),
    key_box("rect", 757, 418, "#f7dc6f", "#e89a30"), key_box("circle", 757, 431, "#f2b0b0", "#d8484a"),
    key_line(748, 765, 443, "#555", 1.5),
    key_line(703, 715, 281, "#e02030", 1, "3px,2px"), key_line(703, 715, 293, "#8fc1e8", 2.4),
]

fig.update_layout(
    width=W, height=H, margin=dict(l=0, r=0, t=0, b=0, autoexpand=False), showlegend=False,
    paper_bgcolor="white", plot_bgcolor="white", annotations=annotations, shapes=shapes,
    **layout_axes,
)

# the page's default body margin would push the 830 px figure out of the window
fig.write_html("out.html", config={"displayModeBar": False}, post_script="document.body.style.margin='0';")
